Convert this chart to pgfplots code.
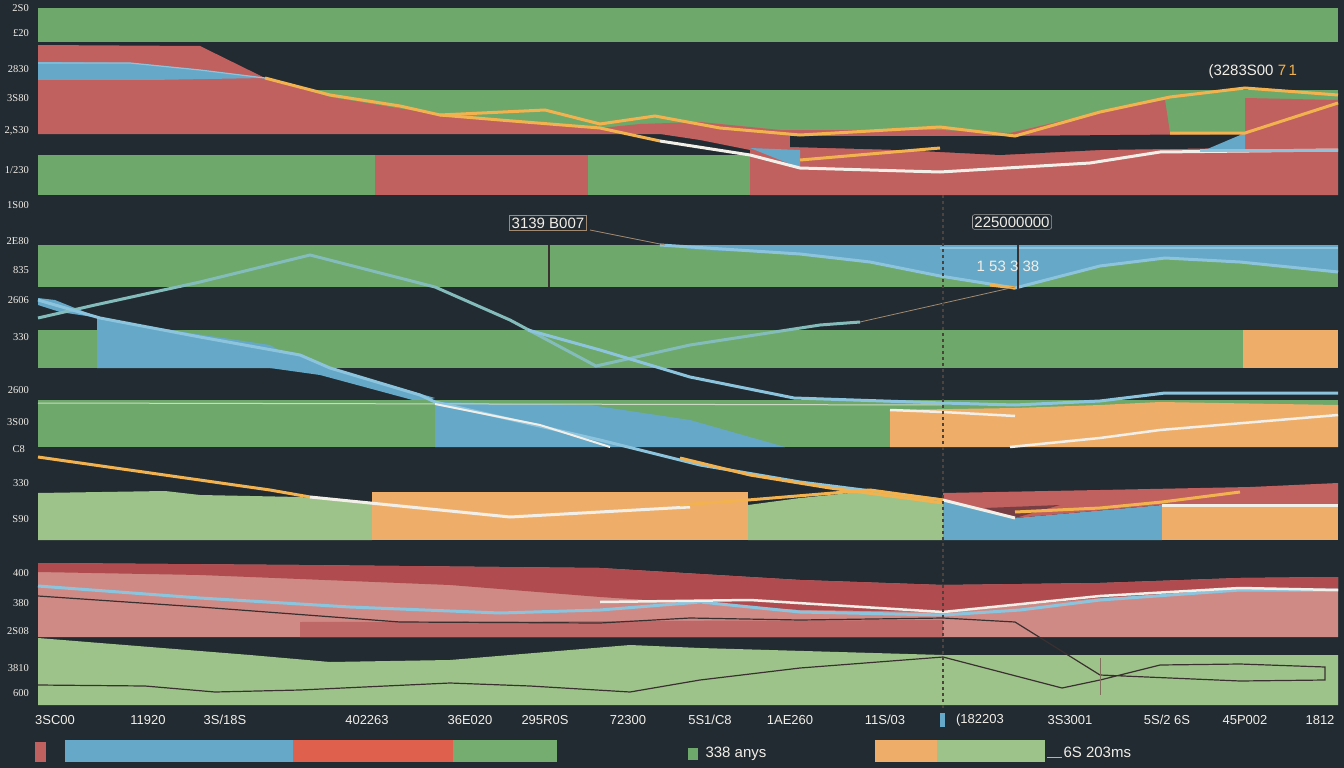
\documentclass[border=0pt]{standalone}
\usepackage{pgfplots}
\pgfplotsset{compat=1.18}
\usepackage{fontspec}
\setmainfont{Liberation Sans}
\newfontfamily\serifl{Liberation Serif}
\definecolor{bg}{HTML}{222B31}
\definecolor{grn}{HTML}{6EA86A}
\definecolor{lgrn}{HTML}{9DC38A}
\definecolor{rd}{HTML}{C0605F}
\definecolor{pink}{HTML}{CF8A86}
\definecolor{drd}{HTML}{B04C50}
\definecolor{blu}{HTML}{66A8C8}
\definecolor{lblu}{HTML}{8CC4DE}
\definecolor{org}{HTML}{EEAE6A}
\definecolor{oline}{HTML}{F2B24F}
\definecolor{wline}{HTML}{F2EEE8}
\definecolor{dline}{HTML}{3A3030}
\definecolor{tan}{HTML}{A08A70}
\definecolor{rorg}{HTML}{E0604E}
\begin{document}
\begin{tikzpicture}
\begin{axis}[width=1344pt,height=768pt,scale only axis,
  xmin=0,xmax=1344,ymin=0,ymax=768,y dir=reverse,
  axis lines=none,ticks=none]
% background
\addplot[fill=bg,draw=none] coordinates {(0,0)(1344,0)(1344,768)(0,768)} -- cycle;
% ---- band A
\addplot[fill=grn,draw=none] coordinates {(38,8)(1338,8)(1338,42)(38,42)} -- cycle;
% ---- band B
\addplot[fill=grn,draw=none] coordinates {(265,90)(1338,90)(1338,134)(265,134)} -- cycle;
\addplot[fill=rd,draw=none] coordinates {(38,45)(200,46)(265,78)(330,97)(440,115)(500,120)(600,128)(640,124)(700,122)(780,130)(940,130)(1010,133)(1100,112)(1165,100)(1170,133)(1245,133)(1245,98)(1338,100)(1338,195)(750,195)(750,150)(700,140)(660,134)(38,134)} -- cycle;
\addplot[fill=bg,draw=none] coordinates {(790,136)(1000,136)(1240,134)(1240,148)(1100,150)(1000,155)(900,150)(790,147)} -- cycle;
\addplot[fill=blu,draw=none] coordinates {(38,62)(130,63)(200,70)(265,78)(150,80)(38,80)} -- cycle;
\addplot[lblu,line width=1.2pt] coordinates {(38,63)(130,63)(200,70)(265,78)};
\addplot[fill=blu,draw=none] coordinates {(1205,150)(1245,133)(1245,150)} -- cycle;
\addplot[fill=blu,draw=none] coordinates {(750,148)(800,150)(800,168)} -- cycle;
% ---- band C
\addplot[fill=grn,draw=none] coordinates {(38,155)(375,155)(375,195)(38,195)} -- cycle;
\addplot[fill=rd,draw=none] coordinates {(375,155)(588,155)(588,195)(375,195)} -- cycle;
\addplot[fill=grn,draw=none] coordinates {(588,155)(750,155)(750,195)(588,195)} -- cycle;
% band B/C lines
\addplot[oline,line width=3pt] coordinates {(265,78)(330,95)(400,106)(440,115)(545,110)(600,124)(655,116)(720,128)(800,135)(940,127)(1015,136)(1100,112)(1170,97)(1245,88)(1338,95)};
\addplot[oline,line width=3pt] coordinates {(440,115)(500,120)(600,128)(660,141)};
\addplot[oline,line width=3pt] coordinates {(800,160)(940,148)};
\addplot[oline,line width=3pt] coordinates {(1170,133)(1245,133)(1338,103)};
\addplot[wline,line width=3pt] coordinates {(660,141)(750,155)(800,168)(940,172)(1090,163)(1160,152)(1338,150)};
\addplot[lblu,line width=3pt] coordinates {(1200,150)(1338,150)};
% ---- band D
\addplot[fill=grn,draw=none] coordinates {(38,245)(1338,245)(1338,287)(38,287)} -- cycle;
\addplot[fill=blu,draw=none] coordinates {(660,245)(1338,245)(1338,272)(1240,262)(1165,258)(1100,266)(1015,288)(940,276)(870,262)(800,254)(700,250)} -- cycle;
\addplot[lblu,line width=3pt] coordinates {(660,245)(800,254)(870,262)(940,276)(1015,288)(1100,266)(1165,258)(1240,262)(1338,272)};
\addplot[lblu,line width=2pt] coordinates {(940,248)(1338,248)};
\addplot[oline,line width=3pt] coordinates {(990,285)(1015,288)};
\addplot[dline,line width=1.2pt] coordinates {(549,245)(549,287)};
\addplot[dline,line width=1.5pt] coordinates {(1018,245)(1018,290)};
\addplot[tan,line width=0.8pt] coordinates {(590,230)(665,245)};
% ---- band E
\addplot[fill=grn,draw=none] coordinates {(38,330)(1243,330)(1243,368)(38,368)} -- cycle;
\addplot[fill=org,draw=none] coordinates {(1243,330)(1338,330)(1338,368)(1243,368)} -- cycle;
\addplot[fill=blu,draw=none] coordinates {(97,318)(190,333)(270,345)(300,362)(310,368)(97,368)} -- cycle;
\addplot[fill=blu,draw=none] coordinates {(38,298)(55,300)(100,318)(60,312)(38,305)} -- cycle;
\addplot[fill=blu,draw=none] coordinates {(250,345)(300,355)(330,368)(435,398)(420,402)(320,375)(270,368)} -- cycle;
% ---- band F
\addplot[fill=grn,draw=none] coordinates {(38,400)(1338,400)(1338,447)(38,447)} -- cycle;
\addplot[fill=blu,draw=none] coordinates {(435,402)(590,405)(690,420)(785,447)(435,447)} -- cycle;
\addplot[fill=org,draw=none] coordinates {(890,410)(1015,408)(1100,405)(1160,402)(1338,405)(1338,447)(890,447)} -- cycle;
\addplot[wline!70!grn,line width=1pt] coordinates {(38,403)(943,405)};
\addplot[wline,line width=2.5pt] coordinates {(1010,447)(1100,438)(1160,430)(1338,415)};
\addplot[wline,line width=2.5pt] coordinates {(890,410)(943,412)(1015,416)};
% long blue lines
\addplot[lblu!70!grn,line width=3pt] coordinates {(38,318)(95,305)(200,282)(310,255)(435,287)(510,320)(596,366)(690,345)(820,325)(860,322)};
\addplot[tan,line width=0.8pt] coordinates {(860,322)(1015,287)};
\addplot[lblu,line width=3pt] coordinates {(38,300)(100,318)(200,337)(300,355)(330,368)(420,395)(435,402)(600,440)(700,465)(800,482)(943,500)(1015,517)};
\addplot[lblu,line width=3pt] coordinates {(528,330)(600,350)(690,377)(794,398)(943,403)(1015,405)(1100,401)(1165,393)(1338,393)};
\addplot[wline,line width=2pt] coordinates {(435,404)(540,425)(610,447)};
% ---- band G
\addplot[fill=lgrn,draw=none] coordinates {(38,493)(165,491)(200,495)(300,497)(372,503)(372,540)(38,540)} -- cycle;
\addplot[fill=org,draw=none] coordinates {(372,492)(748,492)(748,540)(372,540)} -- cycle;
\addplot[fill=lgrn,draw=none] coordinates {(748,505)(800,498)(880,490)(943,502)(943,540)(748,540)} -- cycle;
\addplot[fill=blu,draw=none] coordinates {(943,500)(1015,518)(1162,505)(1162,540)(943,540)} -- cycle;
\addplot[fill=org,draw=none] coordinates {(1162,505)(1338,505)(1338,540)(1162,540)} -- cycle;
\addplot[fill=rd,draw=none] coordinates {(943,493)(1100,490)(1250,487)(1338,483)(1338,505)(1162,505)(1015,518)(943,500)} -- cycle;
\addplot[fill=drd!60!bg,draw=none] coordinates {(985,508)(1060,505)(1015,518)} -- cycle;
\addplot[oline,line width=3pt] coordinates {(38,457)(270,490)(310,497)};
\addplot[wline,line width=3pt] coordinates {(310,497)(510,517)(690,507)};
\addplot[oline,line width=3pt] coordinates {(680,458)(750,475)(830,488)(943,503)};
\addplot[oline,line width=3pt] coordinates {(680,505)(748,500)(870,490)(943,500)};
\addplot[wline,line width=3pt] coordinates {(943,500)(1015,518)};
\addplot[oline,line width=3pt] coordinates {(1015,512)(1100,508)(1162,502)(1240,492)};
\addplot[wline,line width=3pt] coordinates {(1162,505)(1338,505)};
% ---- band H
\addplot[fill=pink,draw=none] coordinates {(38,563)(300,565)(600,568)(800,580)(943,585)(1100,583)(1240,578)(1338,577)(1338,637)(38,637)} -- cycle;
\addplot[fill=drd,draw=none] coordinates {(38,563)(300,565)(600,568)(800,580)(943,585)(1100,583)(1240,578)(1338,577)(1338,590)(1240,590)(1100,598)(943,612)(800,610)(600,597)(450,585)(200,575)(38,572)} -- cycle;
\addplot[fill=drd!55!pink,draw=none] coordinates {(300,622)(943,620)(943,637)(300,637)} -- cycle;
% ---- band I
\addplot[fill=lgrn,draw=none] coordinates {(38,638)(100,643)(250,655)(330,662)(450,660)(630,645)(700,648)(943,655)(1338,655)(1338,705)(38,705)} -- cycle;
\addplot[lblu,line width=3pt] coordinates {(38,586)(200,598)(350,607)(500,613)(600,610)(700,602)(800,612)(943,615)(1020,610)(1100,600)(1240,590)(1338,590)};
\addplot[wline,line width=2.5pt] coordinates {(600,602)(750,600)(943,612)(1100,596)(1240,588)(1338,590)};
\addplot[dline,line width=1.2pt] coordinates {(38,596)(200,607)(400,622)(600,623)(690,618)(800,620)(943,618)(1015,622)(1100,675)};
\addplot[dline,line width=1.2pt] coordinates {(38,685)(145,686)(215,692)(300,690)(450,683)(530,686)(630,692)(700,680)(800,668)(943,657)(1062,688)(1100,680)(1160,665)(1240,664)(1325,667)(1325,680)(1240,681)(1100,675)};
\addplot[tan!70!dline,line width=1pt] coordinates {(1100,658)(1100,695)};
% vertical dashed marker
\addplot[dline!80!tan,dashed,line width=1.2pt] coordinates {(943,195)(943,708)};
\addplot[fill=blu,draw=none] coordinates {(940,713)(945,713)(945,727)(940,727)} -- cycle;
% ---- legend bar row
\addplot[fill=rd,draw=none] coordinates {(35,742)(46,742)(46,762)(35,762)} -- cycle;
\addplot[fill=blu,draw=none] coordinates {(65,740)(293,740)(293,762)(65,762)} -- cycle;
\addplot[fill=rorg,draw=none] coordinates {(293,740)(453,740)(453,762)(293,762)} -- cycle;
\addplot[fill=grn!85!lgrn,draw=none] coordinates {(453,740)(557,740)(557,762)(453,762)} -- cycle;
\addplot[fill=grn,draw=none] coordinates {(688,748)(698,748)(698,760)(688,760)} -- cycle;
\addplot[fill=org,draw=none] coordinates {(875,740)(937,740)(937,762)(875,762)} -- cycle;
\addplot[fill=lgrn,draw=none] coordinates {(937,740)(1045,740)(1045,762)(937,762)} -- cycle;
\addplot[wline!70!bg,line width=1pt] coordinates {(1047,757)(1062,757)};
% ---- annotation boxes
\node[draw=tan,line width=0.6pt,fill=bg,inner sep=2pt,text=wline,font=\fontsize{15}{17}\selectfont] at (axis cs:548,223) {3139 B007};
\node[draw=wline!60!bg,line width=0.6pt,rounded corners=2pt,fill=bg,inner sep=2pt,text=wline,font=\fontsize{15}{17}\selectfont] at (axis cs:1012,222) {225000000};
\node[text=wline,font=\fontsize{15}{17}\selectfont] at (axis cs:1008,266) {1 53 3 38};
\node[text=wline,font=\fontsize{15}{17}\selectfont,anchor=west] at (axis cs:1205,72) {(3283S00 \textcolor{oline}{7\,1}};
\node[text=wline,font=\fontsize{15}{17}\selectfont,anchor=west] at (axis cs:702,754) {338 anys};
\node[text=wline,font=\fontsize{15}{17}\selectfont,anchor=west] at (axis cs:1060,752) {6S 203ms};
% ---- y labels
\begin{scope}[every node/.style={anchor=east,inner sep=1pt,text=wline,font=\serifl\fontsize{10.5}{12}\selectfont}]
\node at (axis cs:30,8) {2S0};
\node at (axis cs:30,33) {\textsterling 20};
\node at (axis cs:30,69) {2830};
\node at (axis cs:30,98) {3S80};
\node at (axis cs:30,131) {2,S30};
\node at (axis cs:30,170) {1/230};
\node at (axis cs:30,205) {1S00};
\node at (axis cs:30,241) {2E80};
\node at (axis cs:30,270) {835};
\node at (axis cs:30,300) {2606};
\node at (axis cs:30,337) {330};
\node at (axis cs:30,390) {2600};
\node at (axis cs:30,422) {3S00};
\node at (axis cs:26,449) {C8};
\node at (axis cs:30,483) {330};
\node at (axis cs:30,519) {S90};
\node at (axis cs:30,573) {400};
\node at (axis cs:30,603) {380};
\node at (axis cs:30,631) {2S08};
\node at (axis cs:30,668) {3810};
\node at (axis cs:30,693) {600};
\end{scope}
% ---- x labels
\begin{scope}[every node/.style={text=wline,font=\fontsize{13}{15}\selectfont}]
\node at (axis cs:55,720) {3SC00};
\node at (axis cs:148,720) {11920};
\node at (axis cs:225,720) {3S/18S};
\node at (axis cs:367,720) {402263};
\node at (axis cs:470,720) {36E020};
\node at (axis cs:545,720) {295R0S};
\node at (axis cs:628,720) {72300};
\node at (axis cs:710,720) {5S1/C8};
\node at (axis cs:790,720) {1AE260};
\node at (axis cs:885,720) {11S/03};
\node at (axis cs:980,720) {(182203};
\node at (axis cs:1070,720) {3S3001};
\node at (axis cs:1167,720) {5S/2 6S};
\node at (axis cs:1245,720) {45P002};
\node at (axis cs:1320,720) {1812};
\end{scope}
\end{axis}
\end{tikzpicture}
\end{document}
